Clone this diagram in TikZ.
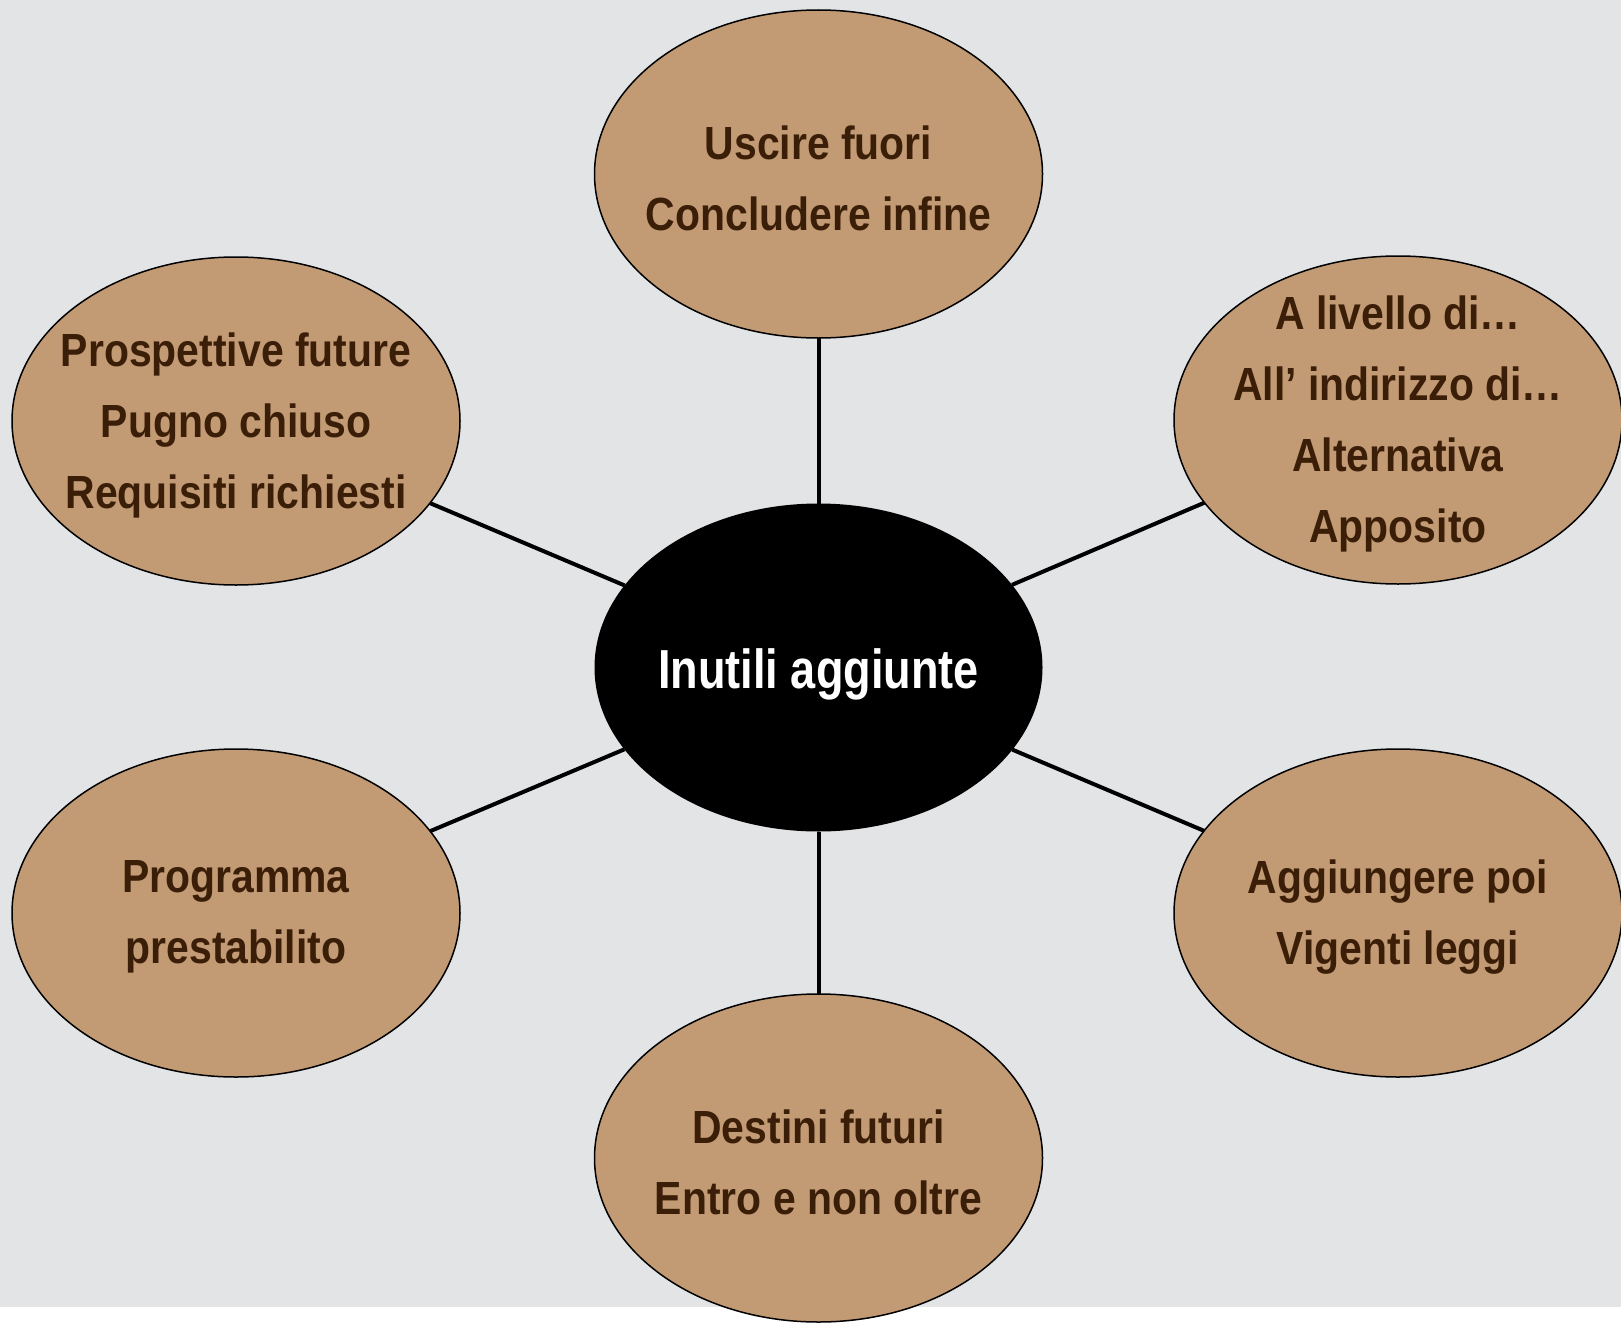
\documentclass[tikz,border=0pt]{standalone}
\usepackage{fontspec}
\setmainfont{Liberation Sans}
\newfontfamily\bubfont{Liberation Sans}[FakeStretch=0.88]
\newfontfamily\hubfont{Liberation Sans}[FakeStretch=0.82]
\usetikzlibrary{shapes.geometric}
\definecolor{marble}{HTML}{E2E4E6}
\definecolor{bubfill}{HTML}{C29B75}
\definecolor{bubtext}{HTML}{3B1E08}
\begin{document}
\begin{tikzpicture}[x=0.5pt,y=-0.5pt,
  bub/.style={ellipse, draw=black, line width=0.75pt, fill=bubfill,
    minimum width=224pt, minimum height=164pt, inner sep=0pt, outer sep=0pt},
  hub/.style={ellipse, fill=black, minimum width=224pt, minimum height=164pt,
    inner sep=0pt, outer sep=0pt},
  bubtxt/.style={align=center, text=bubtext, yshift=-2pt,
    font=\bubfont\bfseries\fontsize{23.25}{35.5}\selectfont},
  hubtxt/.style={text=white, yshift=-3.5pt,
    font=\hubfont\bfseries\fontsize{27.5}{33}\selectfont},
  link/.style={draw=black, line width=2pt}]
\useasboundingbox (0,0) rectangle (1621,1322);
\fill[white] (0,0) rectangle (1621,1322);
\fill[marble] (0,0) rectangle (1621,1307);

\node[hub] (c)  at (818.5,667.5) {};
\node[bub] (t)  at (818.5,174) {};
\node[bub] (tr) at (1398,420) {};
\node[bub] (tl) at (236,421) {};
\node[bub] (bl) at (236,913) {};
\node[bub] (br) at (1398,913) {};
\node[bub] (b)  at (818.5,1158) {};

\draw[link] (c) -- (t);
\draw[link] (c) -- (tr);
\draw[link] (c) -- (tl);
\draw[link] (c) -- (bl);
\draw[link] (c) -- (br);
\draw[link] (c) -- (b);

\node[hubtxt] (ct) at (c) {Inutili aggiunte};
\node[bubtxt] (tt) at (t) {Uscire fuori\\Concludere infine};
\node[bubtxt] (trt) at (tr) {A livello di…\\All’ indirizzo di…\\Alternativa\\Apposito};
\node[bubtxt] (tlt) at (tl) {Prospettive future\\Pugno chiuso\\Requisiti richiesti};
\node[bubtxt] (blt) at (bl) {Programma\\prestabilito};
\node[bubtxt] (brt) at (br) {Aggiungere poi\\Vigenti leggi};
\node[bubtxt] (bt) at (b) {Destini futuri\\Entro e non oltre};
\end{tikzpicture}
\end{document}
